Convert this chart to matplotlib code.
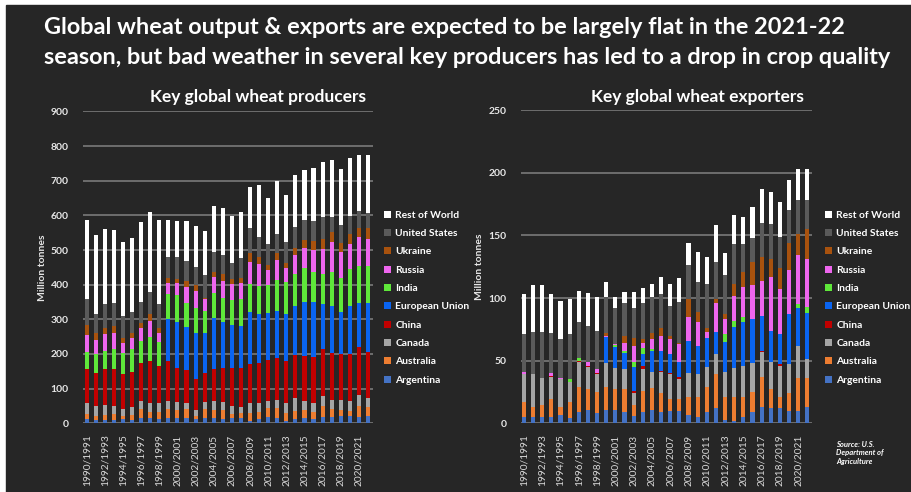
from matplotlib import pyplot as plt
from matplotlib.patches import Rectangle
import numpy as np

BG = '#262626'
FONT = 'Lato'

SEASONS = ['1990/1991', '1991/1992', '1992/1993', '1993/1994', '1994/1995', '1995/1996',
           '1996/1997', '1997/1998', '1998/1999', '1999/2000', '2000/2001', '2001/2002',
           '2002/2003', '2003/2004', '2004/2005', '2005/2006', '2006/2007', '2007/2008',
           '2008/2009', '2009/2010', '2010/2011', '2011/2012', '2012/2013', '2013/2014',
           '2014/2015', '2015/2016', '2016/2017', '2017/2018', '2018/2019', '2019/2020',
           '2020/2021', '2021/2022']

# stacking order, bottom to top
COUNTRIES = ['Argentina', 'Australia', 'Canada', 'China', 'European Union',
             'India', 'Russia', 'Ukraine', 'United States', 'Rest of World']
COLORS = ['#4472C4', '#ED7D31', '#A5A5A5', '#C00000', '#0A64F0',
          '#5FE83A', '#EE66EE', '#A8520E', '#5A5A5A', '#FFFFFF']

# production, million tonnes
prod_argentina = [11, 10, 10, 10, 11, 9, 16, 15, 12, 15, 16, 16, 12, 15, 16, 13,
                  15, 16, 8, 11, 17, 16, 8, 11, 14, 11, 18, 19, 20, 20, 18, 20]
prod_australia = [15, 11, 15, 16, 9, 16, 24, 19, 22, 25, 22, 24, 10, 26, 22, 25,
                  11, 13, 21, 22, 27, 28, 23, 25, 24, 22, 32, 21, 18, 15, 33, 28]
prod_canada = [32, 29, 29, 24, 20, 23, 25, 24, 24, 25, 24, 18, 16, 21, 27, 24,
               24, 19, 29, 25, 21, 23, 27, 36, 27, 27, 29, 27, 29, 30, 32, 24]
prod_china = [98, 96, 102, 106, 101, 101, 110, 123, 108, 116, 98, 96, 89, 84, 91, 97,
              109, 111, 113, 117, 118, 121, 123, 125, 129, 132, 134, 135, 133, 135, 136, 135]
prod_eu = [0, 0, 0, 0, 0, 0, 0, 0, 0, 120, 133, 123, 135, 115, 147, 134,
           125, 122, 151, 140, 136, 137, 134, 141, 156, 159, 131, 137, 122, 138, 127, 139]
prod_india = [49, 54, 53, 59, 61, 66, 63, 69, 69, 72, 78, 69, 70, 63, 72, 70,
              72, 77, 80, 81, 80, 88, 94, 94, 97, 87, 87, 99, 98, 106, 108, 108]
prod_russia = [49, 40, 48, 45, 31, 30, 36, 46, 26, 33, 34, 47, 51, 35, 46, 49,
               46, 48, 64, 64, 42, 57, 38, 53, 58, 61, 73, 86, 74, 73, 84, 77]
prod_ukraine = [29, 21, 19, 21, 14, 16, 14, 18, 15, 14, 10, 19, 15, 4, 17, 18,
                14, 14, 26, 21, 17, 22, 16, 22, 24, 27, 27, 27, 25, 29, 25, 33]
prod_us = [75, 54, 68, 65, 63, 61, 61, 66, 68, 61, 64, 57, 54, 65, 57, 55,
           47, 56, 71, 57, 59, 54, 61, 58, 58, 59, 63, 45, 53, 52, 50, 44]
prod_row = [230, 229, 218, 212, 212, 214, 233, 230, 244, 106, 104, 114, 117, 128, 132, 135,
            135, 135, 120, 149, 132, 154, 135, 151, 144, 152, 161, 164, 161, 168, 161, 166]

# exports, million tonnes
exp_argentina = [5, 5, 5, 5, 7, 4, 9, 11, 8, 11, 11, 9, 6, 9, 11, 9,
                 10, 10, 7, 5, 9, 12, 3, 2, 5, 9, 13, 12, 12, 10, 10, 13]
exp_australia = [12, 8, 10, 14, 6, 13, 20, 16, 17, 18, 16, 18, 9, 17, 17, 15,
                 9, 9, 14, 16, 20, 27, 18, 19, 16, 16, 24, 15, 9, 14, 26, 23]
exp_canada = [22, 26, 21, 18, 22, 16, 20, 18, 14, 19, 17, 16, 9, 17, 13, 17,
              20, 16, 19, 18, 16, 16, 20, 23, 25, 23, 20, 22, 25, 23, 26, 15]
exp_china = [0.5, 0, 0, 1, 0, 0, 1, 1, 1, 0, 0, 0.5, 2, 3, 0, 1,
             1.5, 2, 0.5, 0.5, 0, 0, 0, 0, 0, 0, 0.5, 0, 1, 0.5, 0, 0]
exp_eu = [0, 0, 0, 0, 0, 0, 0, 0, 0, 21, 17, 12.5, 19, 9, 17, 16,
          14.5, 12, 25.5, 22.5, 23, 18, 24, 33, 35, 35, 28, 25, 24, 39.5, 30, 37]
exp_india = [0, 0, 0, 0, 0, 2, 2, 0, 0, 0, 1.5, 2, 4, 5, 1, 0,
             0, 0, 0, 0, 0, 0, 6, 5, 3.5, 0.5, 0, 0, 0, 0, 3, 5]
exp_russia = [1.5, 0, 0, 2, 1, 0, 0, 3, 3, 0.5, 0.5, 6, 13, 4, 8, 12,
              12, 14, 19, 19, 5, 23, 12, 20, 24, 27, 28, 43, 36, 35, 39, 38]
exp_ukraine = [0, 0, 0, 0, 0, 0, 0, 0, 0, 2.5, 0, 6, 6, 3, 5, 6,
               3, 1, 14, 8, 3, 3, 4, 9, 12, 18, 19, 14, 17, 22, 17, 24]
exp_us = [30, 34, 37, 32, 31, 36, 29, 29, 31, 29, 29, 26, 24, 29, 29, 27,
          24, 33, 27, 24, 35, 30, 31, 32, 22.5, 19.5, 27.5, 28, 25, 26, 27, 23]
exp_row = [32, 37, 37, 31, 31, 28, 25, 26, 27, 12, 9, 9, 13, 12, 10, 14,
           17, 19, 18, 24, 22, 29, 18, 23, 22, 25, 27, 26, 28, 24, 25, 25]

production = [prod_argentina, prod_australia, prod_canada, prod_china, prod_eu,
              prod_india, prod_russia, prod_ukraine, prod_us, prod_row]
exports = [exp_argentina, exp_australia, exp_canada, exp_china, exp_eu,
           exp_india, exp_russia, exp_ukraine, exp_us, exp_row]

W, H = 911, 492
fig = plt.figure(figsize=(W / 100, H / 100), dpi=100)
fig.patch.set_facecolor('white')
fig.add_artist(Rectangle((6 / W, 0), 1, 487 / H, transform=fig.transFigure,
                         color=BG, zorder=0))


def px_box(x0, x1, y_top, y_bottom):
  return [x0 / W, 1 - y_bottom / H, (x1 - x0) / W, (y_bottom - y_top) / H]


def draw_stack(ax, series, ymax, ystep, xlim, ylabel_x):
  x = np.arange(len(SEASONS))
  bottom = np.zeros(len(SEASONS))
  for vals, name, color in zip(series, COUNTRIES, COLORS):
    ax.bar(x, vals, 0.45, bottom=bottom, color=color, label=name, zorder=3)
    bottom += np.array(vals)

  ax.set_facecolor('none')
  for s in ax.spines.values():
    s.set_visible(False)
  ax.set_axisbelow(True)
  ax.yaxis.grid(True, color='#7a7a7a', linewidth=1.2)

  ax.set_xlim(*xlim)
  ax.set_ylim(0, ymax)
  ax.set_yticks(range(0, ymax + 1, ystep))
  ax.set_xticks(x[::2])
  ax.set_xticklabels(SEASONS[::2], rotation=90, fontsize=7.3, family=FONT,
                     color='#d9d9d9')
  for t in ax.get_yticklabels():
    t.set_fontsize(7.5)
    t.set_fontweight('bold')
    t.set_family(FONT)
    t.set_color('#e6e6e6')
  ax.tick_params(axis='both', length=0)
  ax.tick_params(axis='y', pad=10)
  ax.tick_params(axis='x', pad=8)

  ax.set_ylabel('Million tonnes', fontsize=7.5, fontweight='bold', family=FONT,
                color='#e6e6e6')
  ax.yaxis.set_label_coords(ylabel_x, 0.5)


ax1 = fig.add_axes(px_box(82.7, 372.7, 111.4, 423.3))
draw_stack(ax1, production, 900, 100, (-0.44, 31.52), -0.122)

ax2 = fig.add_axes(px_box(520.7, 811.7, 110.1, 423.3))
draw_stack(ax2, exports, 250, 50, (-0.36, 31.48), -0.126)

for ax, anchor in [(ax1, 384), (ax2, 825)]:
  handles, labels = ax.get_legend_handles_labels()
  leg = fig.legend(handles[::-1], labels[::-1], loc='upper left',
                   bbox_to_anchor=(anchor / W, 1 - 210.5 / H), frameon=False,
                   handlelength=0.7, handleheight=0.7, handletextpad=0.4,
                   labelspacing=0.89, borderaxespad=0, borderpad=0,
                   prop={'family': FONT, 'weight': 'bold', 'size': 7.4})
  for t in leg.get_texts():
    t.set_color('white')

fig.text(258 / W, 1 - 97 / H, 'Key global wheat producers', ha='center', va='center',
         fontsize=12.5, fontweight='bold', family=FONT, color='white')
fig.text(697 / W, 1 - 97 / H, 'Key global wheat exporters', ha='center', va='center',
         fontsize=12.5, fontweight='bold', family=FONT, color='white')

fig.text(44 / W, 1 - 28 / H,
         'Global wheat output & exports are expected to be largely flat in the 2021-22',
         ha='left', va='center', fontsize=16.9, fontweight='bold', family=FONT, color='white')
fig.text(44 / W, 1 - 57 / H,
         'season, but bad weather in several key producers has led to a drop in crop quality',
         ha='left', va='center', fontsize=16.9, fontweight='bold', family=FONT, color='white')

fig.text(836 / W, 1 - 453 / H, 'Source: U.S.\nDepartment of\nAgriculture',
         ha='left', va='center', fontsize=5.5, fontweight='bold', style='italic',
         family=FONT, color='white', linespacing=1.3)

fig.savefig('out.png', dpi=100, facecolor=fig.get_facecolor())
